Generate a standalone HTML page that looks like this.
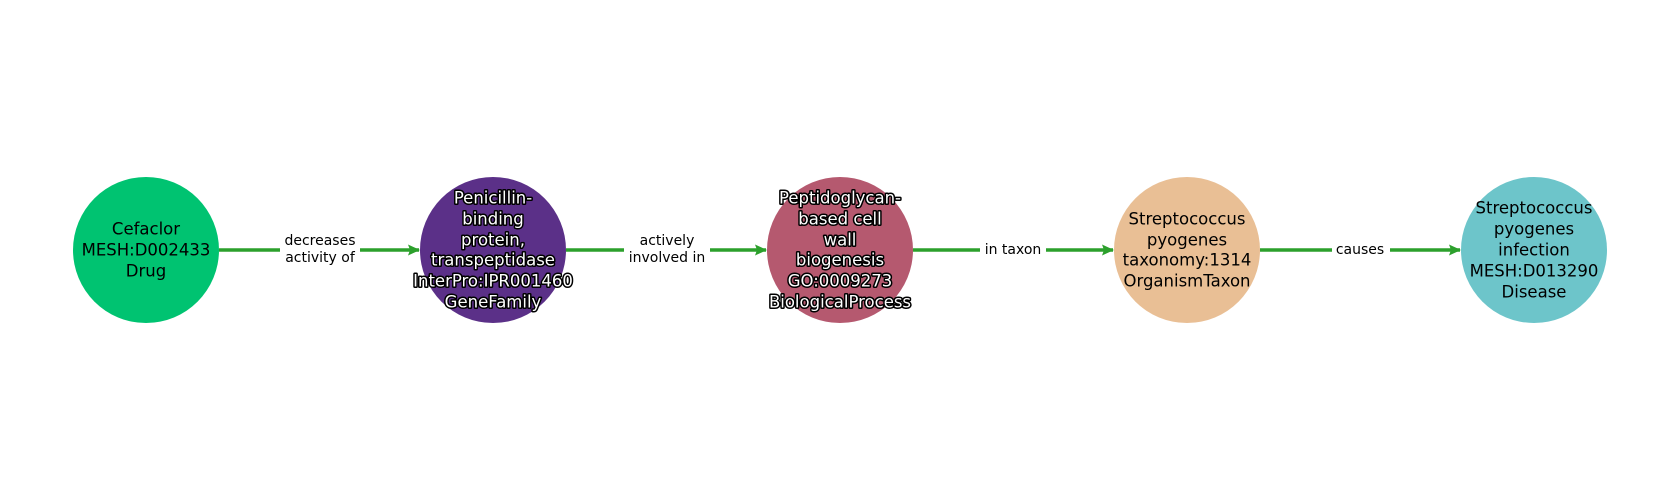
<!DOCTYPE html>
<html><head><meta charset="utf-8"><style>
html,body{margin:0;padding:0;background:#fff;}
svg{display:block;}
text{font-family:"DejaVu Sans","Liberation Sans",sans-serif;}
.n{font-size:16.5px;text-anchor:middle;dominant-baseline:central;fill:#000;}
.w{fill:#fff;stroke:#000;stroke-width:3px;paint-order:stroke;stroke-linejoin:round;}
.e{font-size:14px;text-anchor:middle;dominant-baseline:central;fill:#000;}
</style></head><body>
<svg width="1680" height="500" viewBox="0 0 1680 500" xmlns="http://www.w3.org/2000/svg">
<defs><marker id="a" markerWidth="12" markerHeight="12" refX="11" refY="6" orient="auto" markerUnits="userSpaceOnUse"><path d="M0,0.5 L12,6 L0,11.5 L2,6 Z" fill="#2ca02c"/></marker></defs>
<g stroke="#2ca02c" stroke-width="3.5" fill="none" marker-end="url(#a)">
<line x1="219" y1="250" x2="419" y2="250"/>
<line x1="566" y1="250" x2="766" y2="250"/>
<line x1="913" y1="250" x2="1113" y2="250"/>
<line x1="1260" y1="250" x2="1460" y2="250"/>
</g>
<rect x="280" y="230" width="80" height="40" fill="#fff"/>
<rect x="624" y="230" width="86" height="40" fill="#fff"/>
<rect x="980" y="240" width="66" height="20" fill="#fff"/>
<rect x="1332" y="240" width="58" height="20" fill="#fff"/>
<text class="e" x="320" y="241">decreases</text><text class="e" x="320" y="258">activity of</text>
<text class="e" x="667" y="241">actively</text><text class="e" x="667" y="258">involved in</text>
<text class="e" x="1013" y="250">in taxon</text>
<text class="e" x="1360" y="250">causes</text>
<circle cx="146" cy="250" r="73" fill="#00c371"/>
<circle cx="493" cy="250" r="73" fill="#5b3088"/>
<circle cx="840" cy="250" r="73" fill="#b5596f"/>
<circle cx="1187" cy="250" r="73" fill="#e9bf95"/>
<circle cx="1534" cy="250" r="73" fill="#6dc5ca"/>
<text class="n" x="146" y="229">Cefaclor</text><text class="n" x="146" y="250">MESH:D002433</text><text class="n" x="146" y="271">Drug</text>
<g class="n w">
<text x="493" y="198">Penicillin-</text><text x="493" y="219">binding</text><text x="493" y="240">protein,</text><text x="493" y="260">transpeptidase</text><text x="493" y="281">InterPro:IPR001460</text><text x="493" y="302">GeneFamily</text>
<text x="840" y="198">Peptidoglycan-</text><text x="840" y="219">based cell</text><text x="840" y="240">wall</text><text x="840" y="260">biogenesis</text><text x="840" y="281">GO:0009273</text><text x="840" y="302">BiologicalProcess</text>
</g>
<text class="n" x="1187" y="219">Streptococcus</text><text class="n" x="1187" y="240">pyogenes</text><text class="n" x="1187" y="260">taxonomy:1314</text><text class="n" x="1187" y="281">OrganismTaxon</text>
<text class="n" x="1534" y="208">Streptococcus</text><text class="n" x="1534" y="229">pyogenes</text><text class="n" x="1534" y="250">infection</text><text class="n" x="1534" y="271">MESH:D013290</text><text class="n" x="1534" y="292">Disease</text>
</svg>
</body></html>
